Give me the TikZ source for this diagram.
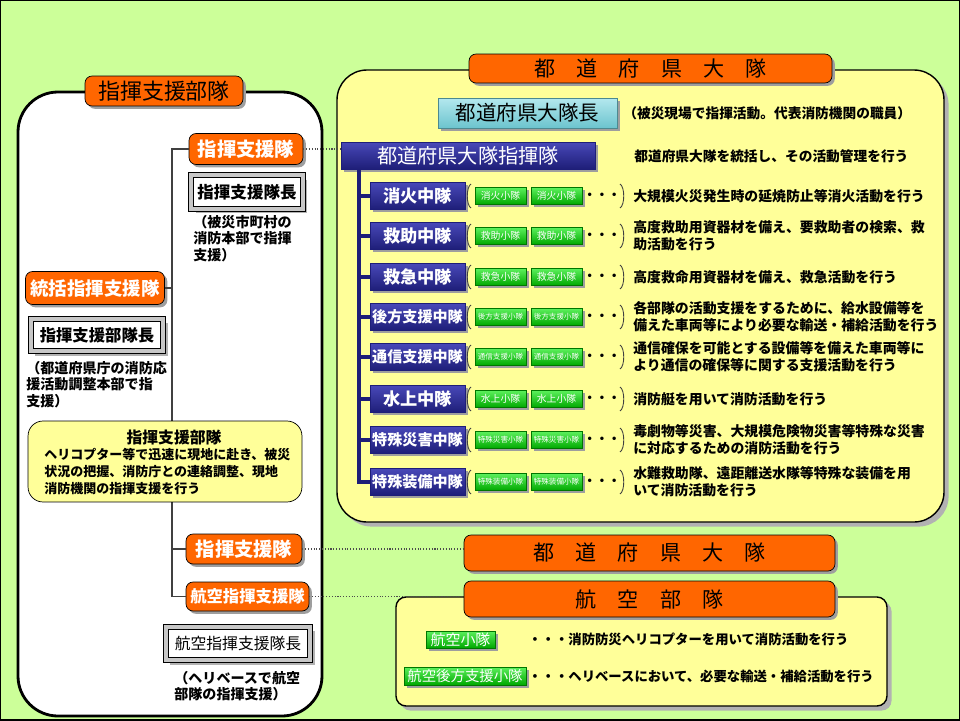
\documentclass[tikz,border=0pt]{standalone}
\usepackage{fontspec}
\setmainfont{Noto Sans CJK JP}
\usepackage{tikz}
\usetikzlibrary{positioning,shadows,calc}
\definecolor{bggreen}{HTML}{CCFF99}
\definecolor{paleyellow}{HTML}{FFFF99}
\definecolor{fireorange}{HTML}{FF6600}
\definecolor{navyL}{HTML}{4848B8}
\definecolor{navyD}{HTML}{1E1E78}
\definecolor{grL}{HTML}{5CF05C}
\definecolor{grD}{HTML}{00A800}
\definecolor{cyL}{HTML}{B4E8EE}
\definecolor{cyD}{HTML}{6CC4CE}
\newcommand\jfs[2]{\fontsize{#1}{#2}\selectfont}

\begin{document}
\begin{tikzpicture}[x=0.02cm,y=-0.02cm,
  shade1/.style={drop shadow={shadow xshift=1.6pt,shadow yshift=-1.6pt,fill=black!38,opacity=1}},
  shade2/.style={drop shadow={shadow xshift=2.6pt,shadow yshift=-2.6pt,fill=black!30,opacity=1}},
  obox/.style={draw=black,fill=fireorange,rounded corners=4pt,inner sep=0pt,shade1},
  navy/.style={draw=navyD,top color=navyL,bottom color=navyD,text=white,inner sep=0pt,shade1},
  gbox/.style={draw=grD!70!black,top color=grL,bottom color=grD,text=white,inner sep=0pt,shade1},
  cybox/.style={draw=cyD!70!black,top color=cyL,bottom color=cyD,inner sep=0pt,shade1},
  bevel/.style={draw=black,double=black!22,double distance=2.4pt,fill=white,inner sep=0pt,shade2},
  note/.style={inner sep=0pt,align=left,font=\jfs{8}{9.3}\bfseries},
  desc/.style={inner sep=0pt,align=left,font=\jfs{7.9}{9.6}\bfseries},
  lline/.style={black!75,line width=0.8pt},
  btrunk/.style={navyD,line width=1.8pt},
  dline/.style={black!70,densely dotted,line width=0.6pt},
  brk/.style={black!75,line width=0.5pt}]
  \useasboundingbox (0,0) rectangle (960,720);
  \fill[bggreen] (0,0) rectangle (960,720);
  \draw[line width=1.2pt] (0,0) rectangle (960,720);

  % panels
  \draw[fill=white,line width=1.6pt,rounded corners=0.8cm] (18,92) rectangle (322,716);
  \draw[fill=paleyellow,line width=0.8pt,rounded corners=0.6cm,shade2] (337,70) rectangle (944,522);
  \draw[fill=paleyellow,line width=0.8pt,rounded corners=0.2cm,shade2] (396,597) rectangle (887,706);

  % left column
  \node[obox,minimum width=3.16cm,minimum height=0.6cm,font=\jfs{12.5}{12.5}] (lhead) at (164,91) {指揮支援部隊};
  \node[obox,text=white,minimum width=2.28cm,minimum height=0.62cm,font=\jfs{11}{11}\bfseries] (sien1) at (246,149) {指揮支援隊};
  \node[bevel,minimum width=2.23cm,minimum height=0.67cm,font=\jfs{9.4}{9.4}\bfseries] (cho1) at (247,192) {指揮支援隊長};
  \node[note,anchor=north west] (n1) at (193,215) {（被災市町村の\\消防本部で指揮\\支援）};
  \node[obox,text=white,minimum width=2.78cm,minimum height=0.66cm,font=\jfs{10.5}{10.5}\bfseries] (touk) at (95,288) {統括指揮支援隊};
  \node[bevel,minimum width=2.65cm,minimum height=0.65cm,font=\jfs{9.3}{9.3}\bfseries] (cho2) at (97,335) {指揮支援部隊長};
  \node[note,anchor=north west] (n2) at (26,361) {（都道府県庁の消防応\\援活動調整本部で指\\支援）};
  \node[obox,text=white,minimum width=2.32cm,minimum height=0.6cm,font=\jfs{11}{11}\bfseries] (sien2) at (244,549) {指揮支援隊};
  \node[obox,text=white,minimum width=2.46cm,minimum height=0.58cm,font=\jfs{9.3}{9.3}\bfseries] (kou) at (247.5,596.5) {航空指揮支援隊};
  \node[bevel,minimum width=2.89cm,minimum height=0.67cm,font=\jfs{9}{9}] (cho3) at (238,643.5) {航空指揮支援隊長};
  \node[note,anchor=north west] (n3) at (174,671) {（ヘリベースで航空\\部隊の指揮支援）};
  \coordinate (lb) at (172,596.5);
  \draw[lline] (sien1.west) -| (lb) -- (kou.west);
  \draw[lline] (touk.east) -- (touk.east -| lb);
  \draw[lline] (sien2.west -| lb) -- (sien2.west);
  \node[draw,fill=paleyellow,rounded corners=0.3cm,minimum width=5.48cm,minimum height=1.62cm] (hbox) at (165,461.5) {};
  \node[inner sep=0pt,font=\jfs{9}{9}\bfseries] (htitle) at (174,437) {指揮支援部隊};
  \node[inner sep=0pt,anchor=north west,align=left,font=\jfs{7.4}{9.6}\bfseries] (htext) at (44,448) {ヘリコプター等で迅速に現地に赴き、被災\\状況の把握、消防庁との連絡調整、現地\\消防機関の指揮支援を行う};

  % prefecture unit
  \node[obox,minimum width=7.26cm,minimum height=0.58cm,font=\jfs{12}{12}] (rhead) at (650.5,68.5) {都　道　府　県　大　隊};
  \node[cybox,minimum width=3.58cm,minimum height=0.6cm,font=\jfs{11.7}{11.7}] (boss) at (527.5,113) {都道府県大隊長};
  \node[desc,anchor=west,font=\jfs{7.8}{9.6}\bfseries] (bossnote) at (623,113) {（被災現場で指揮活動。代表消防機関の職員）};
  \node[navy,minimum width=5.08cm,minimum height=0.54cm,font=\jfs{11.5}{11.5}] (shiki) at (468,155.5) {都道府県大隊指揮隊};
  \node[desc,anchor=west,font=\jfs{7.8}{9.6}\bfseries] (shikinote) at (634,156) {都道府県大隊を統括し、その活動管理を行う};
  \coordinate (rt) at (359,169);

  \foreach \i/\y/\nm/\sub/\fa/\fb/\desc in {
    1/196/消火中隊/消火小隊/9.8/5.6/{大規模火災発生時の延焼防止等消火活動を行う},
    2/236/救助中隊/救助小隊/9.8/5.6/{高度救助用資器材を備え、要救助者の検索、救\\助活動を行う},
    3/277/救急中隊/救急小隊/9.8/5.6/{高度救命用資器材を備え、救急活動を行う},
    4/317/後方支援中隊/後方支援小隊/8.6/4.3/{各部隊の活動支援をするために、給水設備等を\\備えた車両等により必要な輸送・補給活動を行う},
    5/357/通信支援中隊/通信支援小隊/8.6/4.3/{通信確保を可能とする設備等を備えた車両等に\\より通信の確保等に関する支援活動を行う},
    6/399/水上中隊/水上小隊/9.8/5.6/{消防艇を用いて消防活動を行う},
    7/440/特殊災害中隊/特殊災害小隊/8.6/4.3/{毒劇物等災害、大規模危険物災害等特殊な災害\\に対応するための消防活動を行う},
    8/482/特殊装備中隊/特殊装備小隊/8.6/4.3/{水難救助隊、遠距離送水隊等特殊な装備を用\\いて消防活動を行う}}{
    \node[navy,minimum width=1.9cm,minimum height=0.54cm,font={\jfs{\fa}{\fa}\bfseries}] (c\i) at (417.5,\y) {\nm};
    \draw[btrunk] (rt |- c\i.west) -- (c\i.west);
    \draw[brk] (471,\y-12) .. controls (466,\y-9) and (466,\y+9) .. (471,\y+12);
    \node[gbox,minimum width=1.02cm,minimum height=0.34cm,font={\jfs{\fb}{\fb}}] (s\i a) at (500.5,\y) {\sub};
    \node[gbox,minimum width=1.02cm,minimum height=0.34cm,font={\jfs{\fb}{\fb}}] (s\i b) at (556.5,\y) {\sub};
    \node[inner sep=0pt,font=\jfs{7}{7}\bfseries] (d\i) at (602,\y) {・・・};
    \draw[brk] (620,\y-12) .. controls (625,\y-9) and (625,\y+9) .. (620,\y+12);
    \node[desc,anchor=west] (t\i) at (633,\y) {\desc};
  }
  \draw[btrunk] (rt) |- (c8.west);

  % lower units
  \node[obox,minimum width=7.42cm,minimum height=0.72cm,font=\jfs{12}{12}] (rhead2) at (649.5,553) {都　道　府　県　大　隊};
  \node[obox,minimum width=7.42cm,minimum height=0.72cm,font=\jfs{12}{12}] (rhead3) at (649.5,599) {航　空　部　隊};
  \draw[dline] (sien1.east) -- (sien1.east -| shiki.west);
  \draw[dline] (sien2.east) -- (sien2.east -| rhead2.west);
  \draw[dline] (kou.east) -- (kou.east -| rhead3.west);
  \node[gbox,minimum width=1.38cm,minimum height=0.34cm,font=\jfs{8.5}{8.5}] (kouA) at (460.5,639.5) {航空小隊};
  \node[gbox,minimum width=2.44cm,minimum height=0.36cm,font=\jfs{8.2}{8.2}] (kouB) at (465,676) {航空後方支援小隊};
  \node[desc,anchor=west,font=\jfs{7.6}{9.6}\bfseries] (kouAt) at (528,639.5) {・・・消防防災ヘリコプターを用いて消防活動を行う};
  \node[desc,anchor=west,font=\jfs{7.6}{9.6}\bfseries] (kouBt) at (528,676) {・・・ヘリベースにおいて、必要な輸送・補給活動を行う};
\end{tikzpicture}
\end{document}
